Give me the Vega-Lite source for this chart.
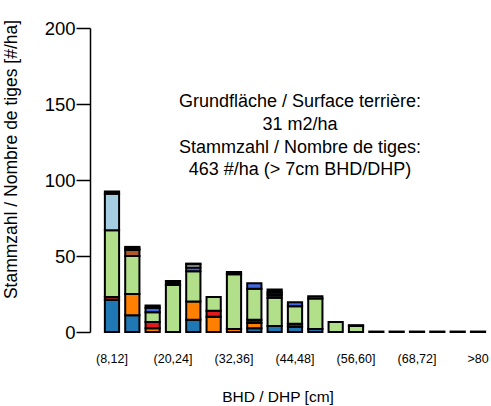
{
  "$schema": "https://vega.github.io/schema/vega-lite/v6.json",
  "autosize": "none",
  "padding": {"left": 101, "top": 28, "right": 2, "bottom": 74},
  "width": 388,
  "height": 304,
  "background": "white",
  "config": {
    "view": {"stroke": null},
    "font": "Liberation Sans",
    "axis": {"labelFont": "Liberation Sans", "titleFont": "Liberation Sans", "labelColor": "black", "titleColor": "black", "titleFontWeight": "normal", "grid": false}
  },
  "datasets": {
    "stems": [
      {"bhd": "(8,12]", "species": "s01", "n": 21},
      {"bhd": "(8,12]", "species": "s04", "n": 2},
      {"bhd": "(8,12]", "species": "s06", "n": 44},
      {"bhd": "(8,12]", "species": "s11", "n": 24},
      {"bhd": "(8,12]", "species": "s14", "n": 1.5},
      {"bhd": "(12,16]", "species": "s01", "n": 11},
      {"bhd": "(12,16]", "species": "s02", "n": 14},
      {"bhd": "(12,16]", "species": "s06", "n": 25},
      {"bhd": "(12,16]", "species": "s10", "n": 4},
      {"bhd": "(12,16]", "species": "s13", "n": 1},
      {"bhd": "(12,16]", "species": "s14", "n": 1},
      {"bhd": "(16,20]", "species": "s02", "n": 2.5},
      {"bhd": "(16,20]", "species": "s03", "n": 4},
      {"bhd": "(16,20]", "species": "s06", "n": 6.5},
      {"bhd": "(16,20]", "species": "s09", "n": 3},
      {"bhd": "(16,20]", "species": "s14", "n": 1.5},
      {"bhd": "(20,24]", "species": "s06", "n": 31},
      {"bhd": "(20,24]", "species": "s14", "n": 2.5},
      {"bhd": "(24,28]", "species": "s01", "n": 8},
      {"bhd": "(24,28]", "species": "s02", "n": 12},
      {"bhd": "(24,28]", "species": "s06", "n": 20},
      {"bhd": "(24,28]", "species": "s09", "n": 2.5},
      {"bhd": "(24,28]", "species": "s12", "n": 2},
      {"bhd": "(24,28]", "species": "s14", "n": 0.5},
      {"bhd": "(28,32]", "species": "s02", "n": 10},
      {"bhd": "(28,32]", "species": "s03", "n": 4},
      {"bhd": "(28,32]", "species": "s06", "n": 9},
      {"bhd": "(32,36]", "species": "s02", "n": 2},
      {"bhd": "(32,36]", "species": "s06", "n": 36},
      {"bhd": "(32,36]", "species": "s14", "n": 1.5},
      {"bhd": "(36,40]", "species": "s01", "n": 2.5},
      {"bhd": "(36,40]", "species": "s02", "n": 3.5},
      {"bhd": "(36,40]", "species": "s05", "n": 2},
      {"bhd": "(36,40]", "species": "s06", "n": 20.5},
      {"bhd": "(36,40]", "species": "s09", "n": 3.5},
      {"bhd": "(40,44]", "species": "s01", "n": 4},
      {"bhd": "(40,44]", "species": "s06", "n": 18.5},
      {"bhd": "(40,44]", "species": "s07", "n": 2},
      {"bhd": "(40,44]", "species": "s09", "n": 1.5},
      {"bhd": "(40,44]", "species": "s14", "n": 2},
      {"bhd": "(44,48]", "species": "s01", "n": 3.5},
      {"bhd": "(44,48]", "species": "s04", "n": 2},
      {"bhd": "(44,48]", "species": "s06", "n": 11.5},
      {"bhd": "(44,48]", "species": "s09", "n": 2.5},
      {"bhd": "(48,52]", "species": "s01", "n": 2},
      {"bhd": "(48,52]", "species": "s06", "n": 20},
      {"bhd": "(48,52]", "species": "s08", "n": 1.5},
      {"bhd": "(52,56]", "species": "s06", "n": 6.5},
      {"bhd": "(56,60]", "species": "s06", "n": 4},
      {"bhd": "(56,60]", "species": "s14", "n": 0.5},
      {"bhd": "(60,64]", "species": "s14", "n": 0.3},
      {"bhd": "(64,68]", "species": "s14", "n": 0.3},
      {"bhd": "(68,72]", "species": "s14", "n": 0.3},
      {"bhd": "(72,76]", "species": "s14", "n": 0.3},
      {"bhd": "(76,80]", "species": "s14", "n": 0.3},
      {"bhd": ">80", "species": "s14", "n": 0.3}
    ],
    "notes": [
      {"line": "Grundfläche / Surface terrière:", "yv": 148},
      {"line": "31 m2/ha", "yv": 133},
      {"line": "Stammzahl / Nombre de tiges:", "yv": 118},
      {"line": "463 #/ha (> 7cm BHD/DHP)", "yv": 103.3}
    ]
  },
  "layer": [
    {
      "data": {"name": "stems"},
      "mark": {"type": "bar", "stroke": "black", "strokeWidth": 2},
      "encoding": {
        "x": {
          "field": "bhd", "type": "nominal",
          "scale": {"domain": ["(8,12]","(12,16]","(16,20]","(20,24]","(24,28]","(28,32]","(32,36]","(36,40]","(40,44]","(44,48]","(48,52]","(52,56]","(56,60]","(60,64]","(64,68]","(68,72]","(72,76]","(76,80]",">80"], "paddingInner": 0.3, "paddingOuter": 0.19},
          "axis": {
            "title": "BHD / DHP [cm]",
            "values": ["(8,12]","(20,24]","(32,36]","(44,48]","(56,60]","(68,72]",">80"],
            "labelAngle": 0, "domain": false, "ticks": false,
            "labelFontSize": 12.5, "labelPadding": 20, "labelOverlap": false,
            "titleFontSize": 15.5, "titleX": 176.5, "titleY": 69, "titleBaseline": "alphabetic"
          }
        },
        "y": {
          "field": "n", "type": "quantitative", "stack": "zero",
          "scale": {"domain": [0, 200], "nice": false},
          "axis": {
            "title": "Stammzahl / Nombre de tiges [#/ha]",
            "values": [0, 50, 100, 150, 200],
            "offset": 11, "domainColor": "black", "domainWidth": 1.5,
            "tickColor": "black", "tickWidth": 1.5, "tickSize": 14,
            "labelFontSize": 18.5, "labelPadding": 1,
            "titleFontSize": 17.5, "titleX": -73.5, "titleY": 131, "titleBaseline": "alphabetic"
          }
        },
        "color": {
          "field": "species", "type": "nominal", "legend": null,
          "scale": {
            "domain": ["s01","s02","s03","s04","s05","s06","s07","s08","s09","s10","s11","s12","s13","s14"],
            "range": ["#1f78b4","#ff7f00","#e31a1c","#8b1a1a","#1a1a1a","#b2df8a","#1a1a1a","#33a02c","#4169e1","#b15928","#a6cee3","#ffffff","#999999","#000000"]
          }
        },
        "order": {"field": "species", "sort": "ascending"}
      }
    },
    {
      "data": {"name": "notes"},
      "mark": {"type": "text", "fontSize": 18, "align": "center", "baseline": "alphabetic", "dx": 5, "color": "black", "font": "Liberation Sans"},
      "encoding": {
        "x": {"datum": "(44,48]", "type": "nominal"},
        "y": {"field": "yv", "type": "quantitative"},
        "text": {"field": "line"}
      }
    }
  ]
}
